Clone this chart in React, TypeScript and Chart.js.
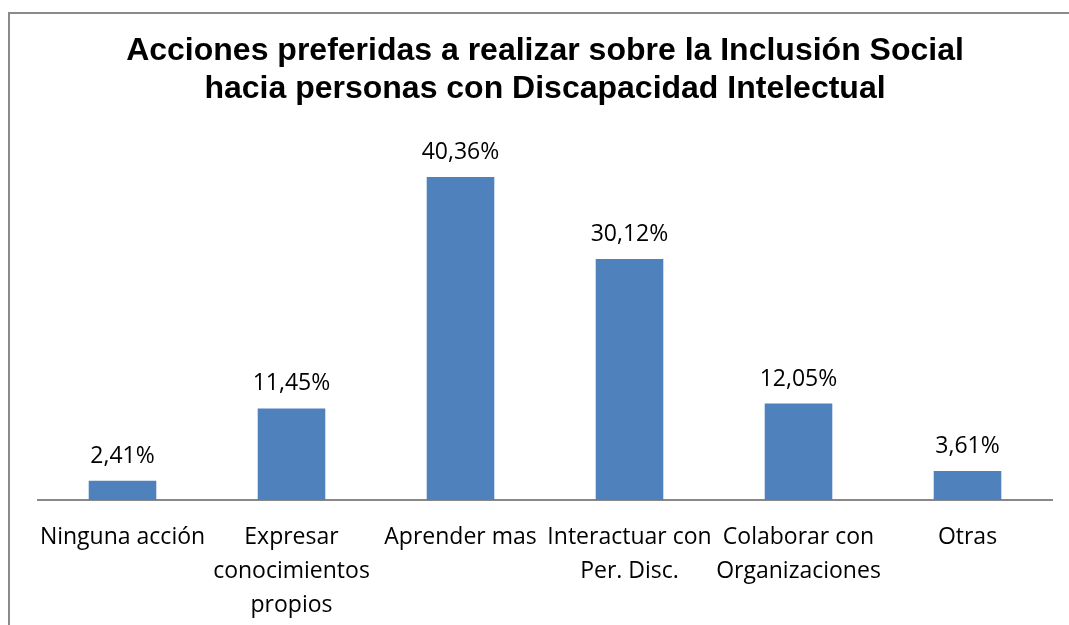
import React, { useEffect, useRef } from "react";
import { Chart, registerables } from "chart.js";

Chart.register(...registerables);

const categories: string[][] = [
  ["Ninguna acción"],
  ["Expresar", "conocimientos", "propios"],
  ["Aprender mas"],
  ["Interactuar con", "Per. Disc."],
  ["Colaborar con", "Organizaciones"],
  ["Otras"],
];
const values: number[] = [2.41, 11.45, 40.36, 30.12, 12.05, 3.61];
const titleLines: string[] = [
  "Acciones preferidas a realizar sobre la Inclusión Social",
  "hacia personas con Discapacidad Intelectual",
];

const framePlugin = {
  id: "frame",
  beforeDraw(chart: any) {
    const ctx = chart.ctx;
    ctx.save();
    ctx.strokeStyle = "#8a8a8a";
    ctx.lineWidth = 2;
    ctx.strokeRect(9, 13, chart.width + 100, chart.height + 100);
    ctx.restore();
  },
};

const dataLabelPlugin = {
  id: "dataLabels",
  afterDatasetsDraw(chart: any) {
    const ctx = chart.ctx;
    const meta = chart.getDatasetMeta(0);
    const data = chart.data.datasets[0].data as number[];
    ctx.save();
    ctx.fillStyle = "#000";
    ctx.font = '23px "Open Sans"';
    ctx.textAlign = "center";
    ctx.textBaseline = "alphabetic";
    meta.data.forEach((bar: any, i: number) => {
      const label = data[i].toFixed(2).replace(".", ",") + "%";
      ctx.fillText(label, bar.x, bar.y - 18);
    });
    ctx.restore();
  },
};

export default function App() {
  const ref = useRef<HTMLCanvasElement | null>(null);
  useEffect(() => {
    if (!ref.current) return;
    const chart = new Chart(ref.current, {
      type: "bar",
      data: {
        labels: categories,
        datasets: [
          {
            data: values,
            backgroundColor: "#4F81BD",
            borderWidth: 0,
            categoryPercentage: 0.4,
            barPercentage: 1,
          },
        ],
      },
      options: {
        responsive: false,
        animation: false,
        events: [],
        layout: { padding: { left: 38, right: 17, top: 0, bottom: 5 } },
        plugins: {
          legend: { display: false },
          tooltip: { enabled: false },
          title: {
            display: true,
            text: titleLines,
            color: "#000",
            font: { family: "Liberation Sans", size: 32, weight: "bold", lineHeight: 38 / 32 },
            padding: { top: 32, bottom: 32 },
          },
        },
        scales: {
          x: {
            grid: { display: false, drawTicks: false },
            border: { display: true, color: "#888888", width: 2 },
            ticks: {
              color: "#000",
              padding: 20,
              maxRotation: 0,
              autoSkip: false,
              font: { family: "Open Sans", size: 23, lineHeight: 34 / 23 },
            },
          },
          y: {
            display: false,
            min: 0,
            max: 45,
          },
        },
      },
      plugins: [framePlugin, dataLabelPlugin],
    });
    return () => chart.destroy();
  }, []);
  return (
    <div style={{ position: "absolute", left: 0, top: 0, width: 1069, height: 625, overflow: "hidden", background: "#fff" }}>
      <canvas ref={ref} width={1069} height={647} style={{ display: "block" }} />
    </div>
  );
}
